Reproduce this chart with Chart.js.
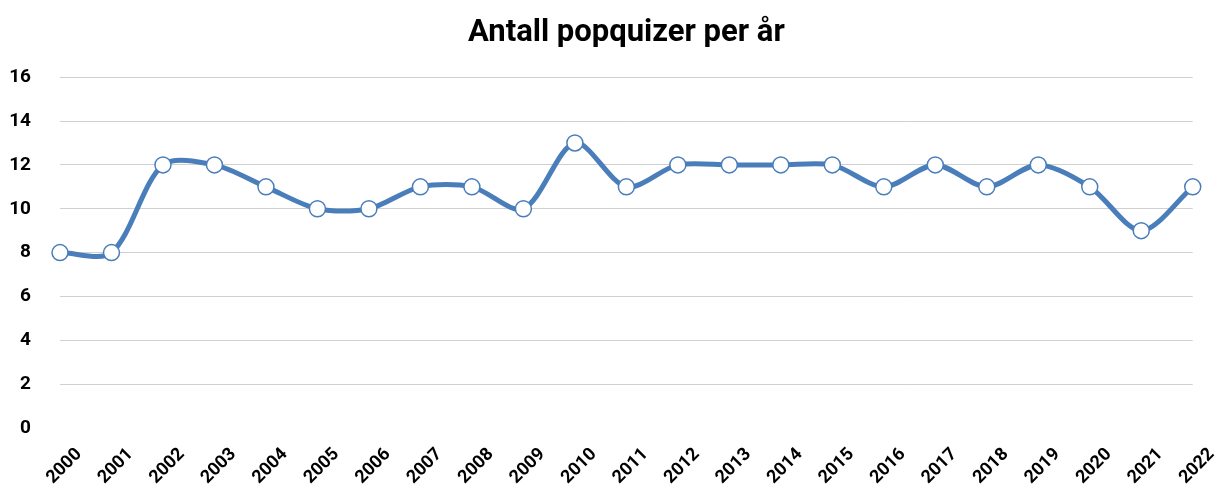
<!DOCTYPE html>
<html lang="no">
<head>
<meta charset="UTF-8">
<script src="https://cdn.jsdelivr.net/npm/chart.js"></script>
<title>Antall popquizer per år</title>
<style>
  body { margin: 0; background: #fff; }
</style>
</head>
<body>
<canvas id="chart" width="1216" height="489"></canvas>
<script>
const years = ['2000','2001','2002','2003','2004','2005','2006','2007','2008','2009','2010',
  '2011','2012','2013','2014','2015','2016','2017','2018','2019','2020','2021','2022'];
const quizzes = [8, 8, 12, 12, 11, 10, 10, 11, 11, 10, 13, 11, 12, 12, 12, 12, 11, 12, 11, 12, 11, 9, 11];
const yTicks = [0, 2, 4, 6, 8, 10, 12, 14, 16];

const blue = '#4a7ebb';
const fontFam = 'Roboto, "DejaVu Sans Condensed", sans-serif';

new Chart(document.getElementById('chart'), {
  type: 'line',
  data: {
    labels: years,
    datasets: [{
      data: quizzes,
      borderColor: blue,
      borderWidth: 5,
      tension: 0.3,
      pointRadius: 8,
      pointBackgroundColor: '#fff',
      pointBorderColor: blue,
      pointBorderWidth: 1.5
    }]
  },
  options: {
    responsive: false,
    animation: false,
    layout: { padding: { left: 0, right: 15, top: 0, bottom: 0 } },
    plugins: {
      legend: { display: false },
      tooltip: { enabled: false },
      title: {
        display: true,
        fullSize: false,
        text: 'Antall popquizer per år',
        color: '#000',
        font: { family: fontFam, size: 31, weight: 'bold' },
        padding: { top: 15, bottom: 25 }
      }
    },
    scales: {
      x: {
        offset: false,
        grid: { display: false },
        border: { display: false },
        ticks: {
          color: '#000',
          font: { family: fontFam, size: 18, weight: 'bold' },
          minRotation: 45,
          maxRotation: 45,
          padding: 8,
          labelOffset: 19
        },
        afterFit: s => { s.height = 61; }
      },
      y: {
        min: 0,
        max: 16,
        afterBuildTicks: s => { s.ticks = yTicks.map(v => ({ value: v })); },
        grid: {
          color: c => c.tick && c.tick.value === 0 ? 'rgba(0,0,0,0)' : '#d0d0d0',
          lineWidth: 1,
          drawTicks: false
        },
        border: { display: false },
        ticks: {
          color: '#000',
          font: { family: fontFam, size: 19, weight: 'bold' },
          padding: 29
        },
        afterFit: s => { s.width = 60; }
      }
    }
  }
});
</script>
</body>
</html>
